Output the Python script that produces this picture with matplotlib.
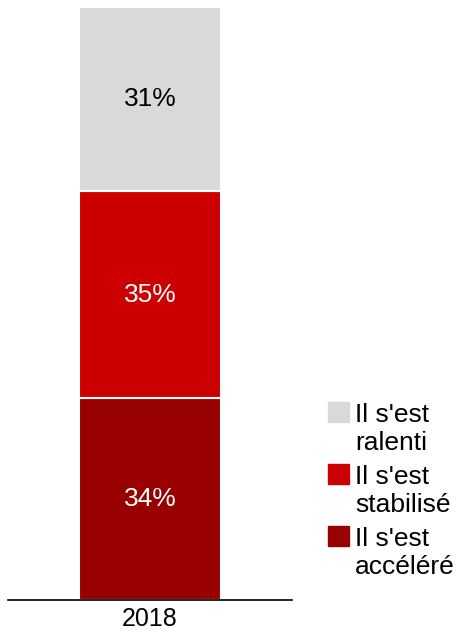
import matplotlib
matplotlib.use("Agg")
import matplotlib.pyplot as plt
from matplotlib.patches import Rectangle

plt.rcParams['font.family'] = ['Liberation Sans', 'DejaVu Sans']

categories = ["2018"]
series_names = ["Il s'est\naccéléré", "Il s'est\nstabilisé", "Il s'est\nralenti"]
values = [[34], [35], [31]]
colors = ["#990000", "#CC0000", "#D9D9D9"]
label_colors = ["white", "white", "black"]

W, H = 459, 633
fig = plt.figure(figsize=(W/100, H/100), dpi=100)
ax = fig.add_axes([8/W, 1 - 600/H, 284/W, 593/H])

bottom = [0]
for name, vals, c, lc in zip(series_names, values, colors, label_colors):
    bars = ax.bar(range(len(categories)), vals, bottom=bottom, width=0.5, color=c,
                  edgecolor="white", linewidth=1.5, label=name)
    for b, v in zip(bars, vals):
        ax.text(b.get_x() + b.get_width()/2, b.get_y() + b.get_height()/2, f"{v}%",
                ha="center", va="center", color=lc, fontsize=19)
    bottom = [bottom[i] + vals[i] for i in range(len(vals))]

ax.set_xlim(-0.5, 0.5)
ax.set_ylim(0, 100)
ax.set_xticks(range(len(categories)))
ax.set_xticklabels(categories, fontsize=18)
ax.tick_params(axis='x', length=0, pad=5)
ax.set_yticks([])
for s in ["top", "right", "left"]:
    ax.spines[s].set_visible(False)
ax.spines["bottom"].set_linewidth(1.2)

# Legend drawn manually (top entry = top series)
for i, (name, c) in enumerate(zip(series_names[::-1], colors[::-1])):
    top = 402 + 62 * i
    fig.patches.append(Rectangle((328/W, 1 - (top + 20)/H), 21/W, 20/H,
                                 transform=fig.transFigure, color=c))
    for j, line in enumerate(name.split("\n")):
        base = top + 20 + 28 * j
        fig.text(355/W, 1 - base/H, line, fontsize=19, ha="left", va="baseline")

fig.savefig("out.png", dpi=100)
